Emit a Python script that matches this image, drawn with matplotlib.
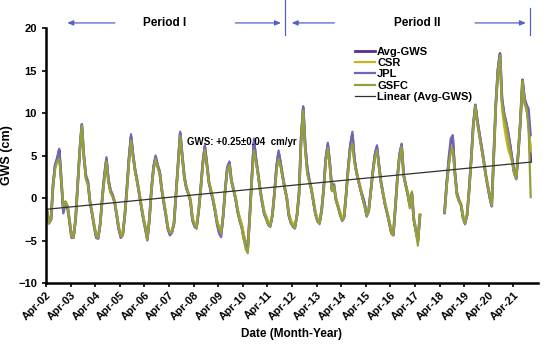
import numpy as np
import pandas as pd
import matplotlib
matplotlib.use("Agg")
import matplotlib.pyplot as plt
import matplotlib.dates as mdates
import matplotlib.transforms as mtransforms

nan = np.nan

# monthly values, Apr 2002 .. Dec 2021 (one row = Apr..Mar)
avg_gws = [
    -1.5, -2.8, -2.5, 1.5, 3.8, 4.5, 5.6, 2.0, -1.5, -0.5, -1.0, -2.6,
    -4.5, -4.6, -2.5, 1.5, 5.5, 8.6, 5.0, 2.5, 1.8, -0.5, -1.8, -3.2,
    -4.5, -4.7, -3.0, 0.0, 2.5, 4.5, 2.0, 0.8, 0.3, -0.5, -2.0, -3.5,
    -4.5, -4.3, -2.0, 1.0, 4.5, 7.2, 5.0, 3.2, 2.0, 0.5, -1.0, -2.3,
    -3.5, -4.8, -2.5, 1.0, 3.5, 4.8, 3.8, 3.0, 1.0, -0.5, -2.0, -3.5,
    -4.2, -4.0, -3.0, 0.5, 4.0, 7.6, 5.0, 2.5, 1.2, 0.5, -0.3, -2.5,
    -3.2, -3.4, -1.5, 1.0, 4.0, 6.0, 4.0, 1.8, 0.8, -0.2, -1.5, -2.8,
    -3.7, -4.2, -2.0, 1.0, 3.5, 4.1, 2.0, 1.0, 0.0, -1.5, -2.5, -3.2,
    -4.5, -5.3, -5.8, -2.0, 2.5, 6.5, 4.5, 2.8, 1.0, -0.5, -1.8, -2.3,
    -3.0, -3.2, -2.0, 0.5, 3.5, 5.3, 4.0, 2.5, 1.2, 0.0, -2.0, -2.8,
    -3.2, -3.4, -2.0, 0.5, 7.0, 10.6, 6.0, 3.2, 2.0, 1.0, -0.5, -1.8,
    -2.6, -2.9, -1.5, 1.0, 4.5, 6.2, 4.0, 1.0, 1.5, -0.2, -1.0, -1.8,
    -2.5, -2.2, 0.5, 3.5, 6.0, 7.4, 4.5, 3.0, 2.0, 1.0, 0.0, -0.8,
    -2.0, -1.5, 0.8, 3.0, 5.0, 5.9, 3.8, 1.8, 0.5, -0.8, -1.8, -2.8,
    -4.0, -4.3, -1.0, 2.4, 5.0, 6.2, 2.7, 1.5, 0.5, -0.8, 0.5, -2.5,
    -3.8, -5.0, -2.0, nan, nan, nan, nan, nan, nan, nan, nan, nan,
    nan, nan, -1.7, 1.5, 4.0, 6.0, 6.8, 3.0, 0.5, -0.3, -0.8, -2.2,
    -2.9, -2.0, 1.0, 4.5, 8.5, 10.9, 9.0, 7.5, 6.0, 4.5, 2.8, 1.5,
    0.2, -0.9, 5.0, 11.0, 15.0, 17.0, 11.5, 9.8, 8.8, 7.5, 6.0, 4.5,
    3.0, 2.4, 5.5, 9.0, 13.9, 11.5, 10.8, 9.0, 4.3,
]

csr = [
    -1.4, -2.6, -2.5, 1.5, 3.8, 4.4, 5.3, 2.2, -1.4, -0.4, -0.9, -2.5,
    -4.3, -4.5, -2.4, 1.4, 5.4, 8.4, 5.2, 2.8, 2.0, -0.3, -1.6, -3.0,
    -4.3, -4.6, -3.0, -0.1, 2.4, 4.3, 2.2, 1.0, 0.4, -0.3, -1.8, -3.3,
    -4.3, -4.1, -2.0, 0.9, 4.4, 7.0, 5.1, 3.4, 2.2, 0.7, -0.8, -2.1,
    -3.4, -4.7, -2.5, 0.9, 3.4, 4.7, 3.9, 3.2, 1.2, -0.3, -1.8, -3.3,
    -4.0, -3.9, -2.9, 0.5, 3.9, 7.5, 5.1, 2.7, 1.4, 0.7, -0.1, -2.3,
    -3.0, -3.2, -1.4, 1.0, 3.9, 5.9, 4.1, 2.0, 1.0, 0.0, -1.3, -2.6,
    -3.5, -4.0, -1.9, 1.0, 3.4, 4.0, 2.1, 1.2, 0.2, -1.3, -2.3, -3.0,
    -4.2, -5.2, -5.6, -1.9, 2.4, 6.3, 4.6, 3.0, 1.1, -0.3, -1.6, -2.1,
    -2.8, -3.0, -1.9, 0.5, 3.4, 5.2, 4.1, 2.7, 1.4, 0.2, -1.8, -2.6,
    -3.0, -3.2, -1.9, 0.5, 6.9, 10.5, 6.1, 3.4, 2.2, 1.2, -0.3, -1.6,
    -2.4, -2.7, -1.4, 1.0, 4.4, 6.1, 4.1, 1.2, 1.7, 0.0, -0.8, -1.6,
    -2.3, -2.0, 0.6, 3.4, 5.9, 7.2, 4.6, 3.2, 2.2, 1.2, 0.2, -0.6,
    -1.8, -1.3, 0.9, 3.0, 4.9, 5.8, 3.9, 2.0, 0.7, -0.6, -1.6, -2.6,
    -3.8, -4.1, -0.9, 2.4, 4.9, 6.1, 2.8, 1.7, 0.7, -0.5, 0.8, -2.3,
    -3.6, -4.8, -1.9, nan, nan, nan, nan, nan, nan, nan, nan, nan,
    nan, nan, -1.6, 1.4, 3.9, 5.9, 6.4, 3.1, 0.7, -0.1, -0.6, -2.0,
    -2.7, -1.9, 1.1, 4.5, 8.4, 10.8, 9.0, 7.6, 6.0, 4.6, 2.9, 1.6,
    0.4, -0.8, 5.0, 10.9, 14.9, 16.6, 10.5, 8.5, 7.0, 5.7, 5.0, 4.2,
    3.1, 2.5, 5.6, 9.0, 13.6, 11.0, 10.4, 9.0, 5.5,
]

jpl = [
    -1.5, -3.0, -2.6, 1.6, 4.0, 4.8, 5.8, 2.0, -1.8, -0.6, -1.2, -2.8,
    -4.7, -4.7, -2.5, 1.6, 5.6, 8.7, 5.0, 2.6, 2.0, -0.4, -1.9, -3.4,
    -4.7, -4.8, -3.0, 0.1, 2.8, 4.8, 2.2, 0.9, 0.4, -0.6, -2.2, -3.7,
    -4.7, -4.4, -2.0, 1.2, 4.8, 7.5, 5.2, 3.3, 2.0, 0.4, -1.2, -2.5,
    -3.7, -5.0, -2.6, 1.1, 3.8, 5.0, 3.9, 3.1, 1.0, -0.7, -2.2, -3.7,
    -4.4, -4.1, -3.0, 0.6, 4.2, 7.8, 5.1, 2.6, 1.3, 0.4, -0.5, -2.7,
    -3.4, -3.6, -1.6, 1.1, 4.2, 6.2, 4.1, 1.9, 0.7, -0.4, -1.7, -3.2,
    -4.2, -4.6, -2.1, 1.1, 3.7, 4.3, 2.1, 1.0, -0.2, -1.7, -2.8, -3.5,
    -4.8, -5.5, -5.9, -2.0, 2.8, 7.0, 4.7, 2.9, 1.0, -0.7, -2.0, -2.5,
    -3.2, -3.4, -2.1, 0.6, 3.8, 5.6, 4.2, 2.6, 1.2, -0.1, -2.2, -3.0,
    -3.4, -3.6, -2.0, 0.6, 7.2, 10.8, 6.2, 3.6, 2.2, 1.0, -0.6, -2.0,
    -2.8, -3.0, -1.5, 1.1, 4.7, 6.5, 4.2, 1.2, 1.6, -0.3, -1.1, -2.0,
    -2.7, -2.4, 0.5, 3.7, 6.3, 7.8, 4.7, 3.1, 2.0, 0.9, 0.3, -0.5,
    -2.2, -1.6, 0.8, 3.1, 5.2, 6.2, 3.9, 1.9, 0.4, -0.9, -1.9, -3.0,
    -4.2, -4.4, -1.0, 2.5, 5.2, 6.4, 2.8, 1.6, 0.3, -1.0, 0.6, -2.6,
    -4.0, -5.1, -2.2, nan, nan, nan, nan, nan, nan, nan, nan, nan,
    nan, nan, -1.8, 1.8, 4.8, 7.0, 7.4, 3.2, 0.6, -0.3, -0.9, -2.4,
    -3.1, -2.1, 1.0, 4.6, 8.6, 11.0, 9.2, 7.6, 6.2, 4.6, 2.8, 1.4,
    0.0, -1.0, 5.0, 11.0, 15.2, 17.0, 11.8, 10.0, 9.0, 7.8, 6.2, 4.6,
    2.8, 2.2, 5.4, 9.0, 13.9, 11.8, 11.0, 10.5, 7.4,
]

gsfc = [
    -1.6, -3.0, -2.4, 1.4, 3.5, 4.3, 4.6, 1.8, -1.2, -0.4, -1.0, -2.6,
    -4.5, -4.7, -2.5, 1.5, 5.5, 8.5, 4.8, 2.2, 1.6, -0.5, -1.8, -3.2,
    -4.5, -4.7, -3.0, 0.0, 2.4, 4.3, 1.8, 0.6, 0.2, -0.5, -2.0, -3.4,
    -4.5, -4.4, -2.0, 0.9, 4.3, 6.8, 4.8, 3.0, 1.8, 0.5, -1.0, -2.3,
    -3.5, -4.9, -2.5, 1.0, 3.4, 4.6, 3.6, 2.8, 0.9, -0.5, -2.0, -3.5,
    -4.1, -4.0, -3.0, 0.4, 3.8, 7.3, 4.8, 2.4, 1.1, 0.5, -0.3, -2.4,
    -3.2, -3.5, -1.5, 0.9, 3.8, 5.7, 3.8, 1.8, 0.9, -0.2, -1.5, -2.9,
    -3.6, -4.2, -2.0, 0.9, 3.3, 3.9, 1.9, 1.0, 0.0, -1.5, -2.6, -3.4,
    -4.8, -6.0, -6.5, -2.2, 2.2, 5.6, 4.2, 2.6, 0.9, -0.5, -1.8, -2.4,
    -3.1, -3.3, -2.0, 0.4, 3.2, 4.6, 3.8, 2.3, 1.1, 0.0, -2.0, -2.9,
    -3.3, -3.5, -2.0, 0.4, 6.8, 10.3, 5.6, 2.8, 1.8, 0.9, -0.6, -1.9,
    -2.7, -3.1, -1.5, 0.9, 4.3, 5.9, 3.8, 0.8, 1.4, -0.4, -1.1, -1.9,
    -2.6, -2.3, 0.4, 3.3, 5.6, 6.4, 4.2, 2.9, 1.9, 1.0, -0.1, -1.0,
    -2.1, -1.6, 0.7, 2.9, 4.8, 5.6, 3.6, 1.7, 0.4, -0.8, -1.8, -2.9,
    -4.1, -4.4, -1.0, 2.3, 4.8, 6.0, 2.6, 1.4, 0.4, -1.2, 0.5, -2.6,
    -4.0, -5.6, -2.0, nan, nan, nan, nan, nan, nan, nan, nan, nan,
    nan, nan, -1.7, 1.4, 3.8, 5.5, 5.7, 2.8, 0.3, -0.4, -0.8, -2.3,
    -3.0, -2.0, 0.9, 4.4, 8.4, 10.8, 8.8, 7.3, 5.8, 4.3, 2.7, 1.5,
    0.2, -0.9, 4.9, 10.9, 14.8, 16.8, 11.2, 9.5, 8.5, 7.0, 5.6, 4.2,
    2.9, 2.3, 5.6, 9.0, 13.8, 11.2, 10.5, 8.0, 0.1,
]

dates = pd.date_range("2002-04-01", periods=len(avg_gws), freq="MS") + pd.Timedelta(days=14)
tick_years = list(range(2002, 2022))


def dn(s):
    return mdates.date2num(pd.Timestamp(s))


plt.rcParams["font.family"] = ["Liberation Sans", "DejaVu Sans"]
plt.rcParams["font.weight"] = "bold"

fig = plt.figure(figsize=(5.5, 3.46), dpi=100)
ax = fig.add_axes([0.0836, 0.182, 0.8944, 0.737])

ax.plot(dates, avg_gws, color="#5b2d91", lw=2.0, label="Avg-GWS")
ax.plot(dates, csr, color="#c9b31e", lw=1.6, label="CSR")
ax.plot(dates, jpl, color="#7464b8", lw=1.6, label="JPL")
ax.plot(dates, gsfc, color="#93a13a", lw=1.6, label="GSFC")

# linear trend of Avg-GWS
y = np.array(avg_gws, dtype=float)
xnum = mdates.date2num(dates)
ok = ~np.isnan(y)
slope, icpt = np.polyfit(xnum[ok], y[ok], 1)
ax.plot(dates, slope * xnum + icpt, color="#303030", lw=0.9, label="Linear (Avg-GWS)")

ax.text(dn("2008-01-01"), 6.6, "GWS: +0.25\u00b10.04  cm/yr", fontsize=7,
        fontweight="bold", va="center", ha="left")

ax.set_xlim(dn("2002-04-01"), dn("2022-04-01"))
ax.set_ylim(-10, 20)
ax.set_yticks([-10, -5, 0, 5, 10, 15, 20])
ax.set_xticks([dn(f"{yr}-04-01") for yr in tick_years])
ax.xaxis.set_major_formatter(mdates.DateFormatter("%b-%y"))
for lab in ax.get_xticklabels():
    lab.set_rotation(45)
    lab.set_ha("right")
    lab.set_rotation_mode("anchor")
ax.tick_params(axis="both", labelsize=8, width=1.2, length=3, direction="out")
ax.tick_params(axis="x", pad=2)
ax.spines["top"].set_visible(False)
ax.spines["right"].set_visible(False)
ax.spines["left"].set_linewidth(1.8)
ax.spines["bottom"].set_linewidth(1.8)
ax.set_ylabel("GWS (cm)", fontsize=9, fontweight="bold", labelpad=4)
ax.set_xlabel("Date (Month-Year)", fontsize=8.5, fontweight="bold", labelpad=4)

# period markers above the plot
trans = mtransforms.blended_transform_factory(ax.transData, ax.transAxes)
arrow_col = "#4f63c4"
aprops = dict(arrowstyle="-|>,head_length=0.35,head_width=0.15", color=arrow_col, lw=0.9)
for x0, x1 in [("2005-03-01", "2003-01-01"), ("2009-11-01", "2011-12-01"),
               ("2014-02-01", "2012-02-15"), ("2019-08-01", "2021-11-15")]:
    ax.annotate("", xy=(dn(x1), 1.02), xytext=(dn(x0), 1.02),
                xycoords=trans, textcoords=trans, arrowprops=aprops, annotation_clip=False)
ax.text(dn("2007-02-01"), 1.02, "Period I", transform=trans, ha="center",
        va="center", fontsize=8.5, fontweight="bold")
ax.text(dn("2017-05-01"), 1.02, "Period II", transform=trans, ha="center",
        va="center", fontsize=8.5, fontweight="bold")
ax.plot([dn("2011-12-15")] * 2, [0.973, 1.11], transform=trans, color=arrow_col,
        lw=0.9, clip_on=False)
ax.plot([dn("2021-12-10")] * 2, [0.973, 1.08], transform=trans, color=arrow_col,
        lw=0.9, clip_on=False)

leg = ax.legend(loc="upper left", bbox_to_anchor=(0.612, 0.958), frameon=False, fontsize=8,
                handlelength=1.8, handletextpad=0.2, labelspacing=0.12, borderpad=0.2)
for t in leg.get_texts():
    t.set_fontweight("bold")

fig.savefig("out.png", dpi=100)
